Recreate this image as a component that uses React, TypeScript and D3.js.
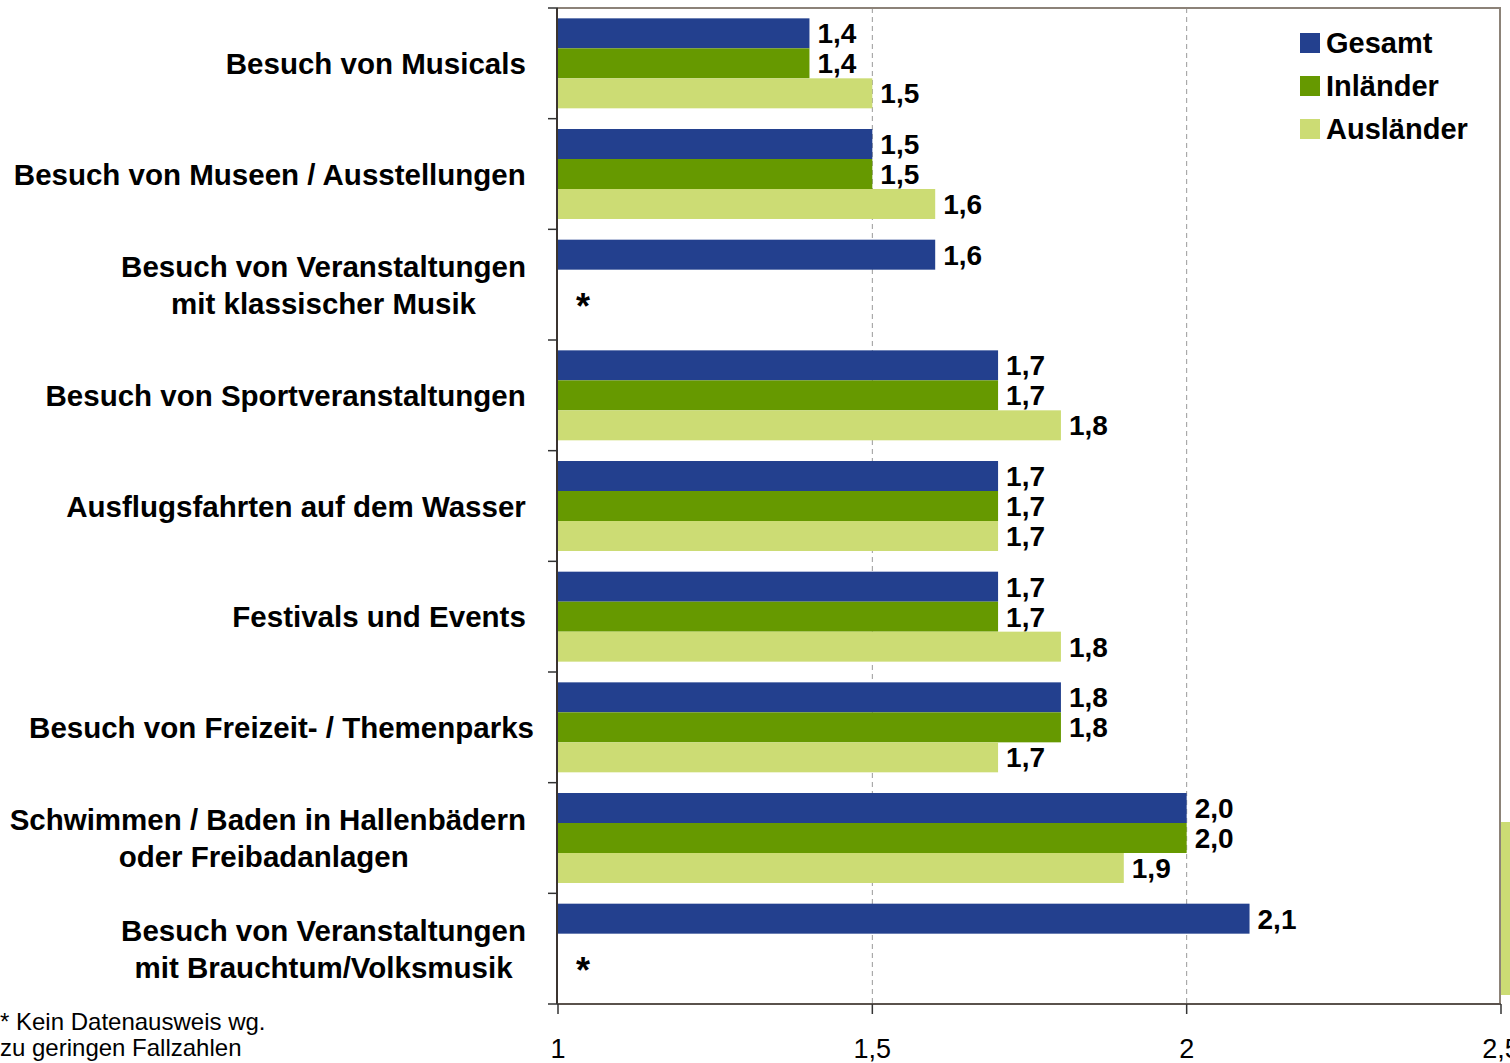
import { useEffect, useRef } from "react";
import * as d3 from "d3";

const CATEGORIES = [
  ["Besuch von Musicals "],
  ["Besuch von Museen / Ausstellungen "],
  ["Besuch von Veranstaltungen", "mit klassischer Musik"],
  ["Besuch von Sportveranstaltungen "],
  ["Ausflugsfahrten auf dem Wasser "],
  ["Festivals und Events "],
  ["Besuch von Freizeit- / Themenparks"],
  ["Schwimmen / Baden in Hallenbädern", "oder Freibadanlagen "],
  ["Besuch von Veranstaltungen", "mit Brauchtum/Volksmusik"],
];

const SERIES = ["Gesamt", "Inländer", "Ausländer"];
const COLORS = ["#23408e", "#669900", "#ccdc74"];

const GESAMT = [1.4, 1.5, 1.6, 1.7, 1.7, 1.7, 1.8, 2.0, 2.1];
const INLAENDER = [1.4, 1.5, null, 1.7, 1.7, 1.7, 1.8, 2.0, null];
const AUSLAENDER = [1.5, 1.6, null, 1.8, 1.7, 1.8, 1.7, 1.9, null];

const X_TICKS = [1, 1.5, 2, 2.5];
const FONT = "Liberation Sans, Arial, sans-serif";

export default function App() {
  const svgRef = useRef<SVGSVGElement>(null);

  useEffect(() => {
    if (!svgRef.current) return;
    const W = 1510, H = 1063;
    const left = 558, right = 1501, top = 8, bottom = 1004;

    const svg = d3.select(svgRef.current);
    svg.selectAll("*").remove();
    svg.attr("width", W).attr("height", H);

    const x = d3.scaleLinear().domain([1, 2.5]).range([left, right]);
    const y = d3.scaleBand<number>().domain(d3.range(CATEGORIES.length)).range([top, bottom]);
    const inner = d3.scaleBand<number>().domain([0, 1, 2]).range([0, y.bandwidth()]).paddingOuter(0.345);

    // stray bar fragment at the right edge
    svg.append("rect").attr("x", right).attr("y", 822).attr("width", W - right).attr("height", 173).attr("fill", "#ccdc74");

    // gridlines
    svg.selectAll("line.grid").data([1.5, 2]).join("line")
      .attr("x1", (d) => x(d)).attr("x2", (d) => x(d))
      .attr("y1", top).attr("y2", bottom)
      .attr("stroke", "#999").attr("stroke-width", 1).attr("stroke-dasharray", "5,4");

    // frame top + right
    svg.append("path")
      .attr("d", `M${left},${top}H${right - 1}V${bottom}`)
      .attr("fill", "none").attr("stroke", "#8c8278").attr("stroke-width", 2);

    const values = [GESAMT, INLAENDER, AUSLAENDER];
    const fmt = (v: number) => v.toFixed(1).replace(".", ",");

    values.forEach((vals, s) => {
      const items = vals.map((v, i) => ({ v, i })).filter((d) => d.v != null) as { v: number; i: number }[];
      svg.selectAll(`rect.s${s}`).data(items).join("rect")
        .attr("x", left)
        .attr("y", (d) => y(d.i)! + inner(s)!)
        .attr("width", (d) => x(d.v) - left)
        .attr("height", inner.bandwidth())
        .attr("fill", COLORS[s]);
      svg.selectAll(`text.v${s}`).data(items).join("text")
        .attr("x", (d) => x(d.v) + 8)
        .attr("y", (d) => y(d.i)! + inner(s)! + inner.bandwidth() / 2)
        .attr("dy", "0.36em")
        .attr("font-family", FONT).attr("font-size", 28).attr("font-weight", "bold")
        .text((d) => fmt(d.v));
    });

    // asterisks for missing data
    GESAMT.forEach((_, i) => {
      if (INLAENDER[i] == null && AUSLAENDER[i] == null) {
        svg.append("text")
          .attr("x", 583).attr("y", y(i)! + inner(2)! + 19)
          .attr("text-anchor", "middle")
          .attr("font-family", FONT).attr("font-size", 36).attr("font-weight", "bold")
          .text("*");
      }
    });

    // axes
    svg.append("line").attr("x1", left - 1).attr("x2", left - 1).attr("y1", top).attr("y2", bottom)
      .attr("stroke", "#3b3430").attr("stroke-width", 2);
    svg.append("line").attr("x1", left - 1).attr("x2", right).attr("y1", bottom).attr("y2", bottom)
      .attr("stroke", "#5a524c").attr("stroke-width", 2);
    const yTicks = d3.range(CATEGORIES.length + 1).map((i) => (i < CATEGORIES.length ? y(i)! : bottom));
    svg.selectAll("line.ytick").data(yTicks).join("line")
      .attr("x1", left - 10).attr("x2", left).attr("y1", (d) => d).attr("y2", (d) => d)
      .attr("stroke", "#333").attr("stroke-width", 1.5);
    svg.selectAll("line.xtick").data(X_TICKS).join("line")
      .attr("x1", (d) => x(d)).attr("x2", (d) => x(d)).attr("y1", bottom).attr("y2", bottom + 10)
      .attr("stroke", "#333").attr("stroke-width", 1.5);
    svg.selectAll("text.xl").data(X_TICKS).join("text")
      .attr("x", (d) => x(d)).attr("y", 1058)
      .attr("text-anchor", "middle")
      .attr("font-family", FONT).attr("font-size", 27)
      .text((d) => (d === Math.round(d) ? String(d) : String(d).replace(".", ",")));

    // category labels
    CATEGORIES.forEach((lines, i) => {
      const cy = y(i)! + y.bandwidth() / 2;
      const g = svg.append("g");
      const texts = lines.map((l, k) =>
        g.append("text")
          .attr("y", cy + (k - (lines.length - 1) / 2) * 37)
          .attr("dy", "0.36em")
          .attr("font-family", FONT).attr("font-size", 29.5).attr("font-weight", "bold")
          .style("white-space", "pre")
          .text(l)
      );
      if (lines.length === 1) {
        texts[0].attr("x", 534).attr("text-anchor", "end");
      } else {
        const widths = texts.map((t) => (t.node() as SVGTextElement).getComputedTextLength());
        const c = 526 - d3.max(widths)! / 2;
        texts.forEach((t) => t.attr("x", c).attr("text-anchor", "middle"));
      }
    });

    // legend
    const lg = svg.append("g").attr("transform", "translate(1300,43)");
    SERIES.forEach((s, k) => {
      lg.append("rect").attr("x", 0).attr("y", k * 43 - 10).attr("width", 20).attr("height", 20).attr("fill", COLORS[k]);
      lg.append("text").attr("x", 26).attr("y", k * 43).attr("dy", "0.36em")
        .attr("font-family", FONT).attr("font-size", 29).attr("font-weight", "bold").text(s);
    });

    // footnote
    const fn = svg.append("text").attr("font-family", FONT).attr("font-size", 24);
    fn.append("tspan").attr("x", 0).attr("y", 1030).text("* Kein Datenausweis wg.");
    fn.append("tspan").attr("x", 0).attr("y", 1056).text("zu geringen Fallzahlen");
  }, []);

  return (
    <div style={{ position: "absolute", left: 0, top: 0, background: "#fff" }}>
      <svg ref={svgRef} style={{ display: "block" }} />
    </div>
  );
}
